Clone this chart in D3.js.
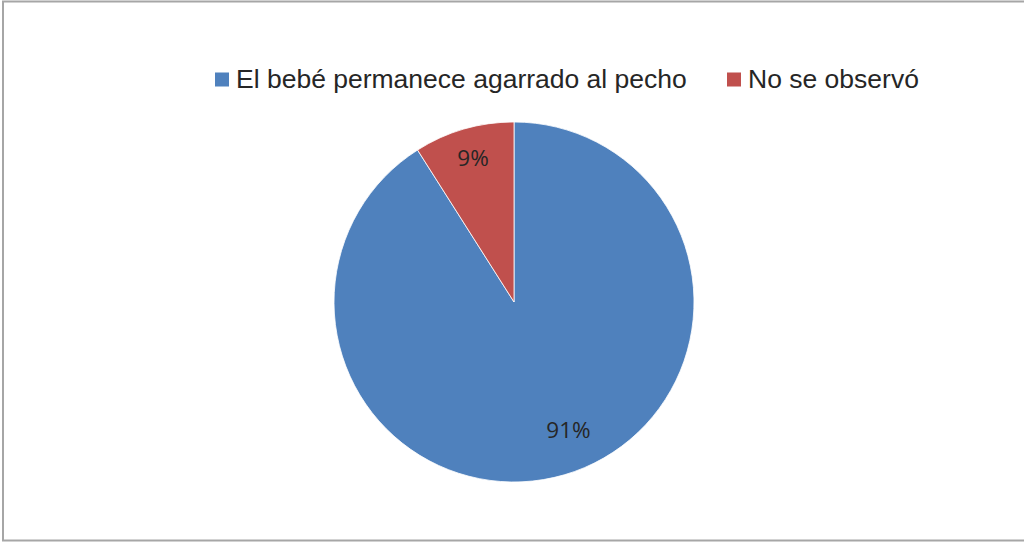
<!DOCTYPE html>
<html>
<head>
<meta charset="utf-8">
<script src="https://cdn.jsdelivr.net/npm/d3@7"></script>
<style>
  html, body { margin: 0; padding: 0; background: #fff; }
  svg { display: block; }
</style>
</head>
<body>
<svg id="chart" width="1024" height="543"></svg>
<script>
// Pie data
const categories = ["El bebé permanece agarrado al pecho", "No se observó"];
const values = [91, 9];
const colors = ["#4F81BD", "#C0504D"];
// label placement: distance as a fraction of the radius, and position along the slice (0..1)
const labelRadii = [0.772, 0.832];
const labelAlong = [0.479, 0.51];

const svg = d3.select("#chart");
const W = 1024, H = 543;

// chart frame
svg.append("rect")
  .attr("x", 3).attr("y", 1.5)
  .attr("width", W + 10).attr("height", 539)
  .attr("fill", "#fff")
  .attr("stroke", "#a6a6a6")
  .attr("stroke-width", 2);

const cx = 514, cy = 302, R = 180;

const pie = d3.pie().sort(null).value(d => d);
const arcs = pie(values);
const arc = d3.arc().innerRadius(0).outerRadius(R);

const g = svg.append("g").attr("transform", `translate(${cx},${cy})`);

g.selectAll("path.slice")
  .data(arcs)
  .join("path")
  .attr("class", "slice")
  .attr("d", arc)
  .attr("fill", (d, i) => colors[i])
  .attr("stroke", "#fff")
  .attr("stroke-width", 0.8);

g.selectAll("text.pct")
  .data(arcs)
  .join("text")
  .attr("class", "pct")
  .attr("transform", (d, i) => {
    const r = R * labelRadii[i];
    const a = d.startAngle + (d.endAngle - d.startAngle) * labelAlong[i];
    return `translate(${Math.sin(a) * r},${-Math.cos(a) * r})`;
  })
  .attr("text-anchor", "middle")
  .attr("dy", "0.36em")
  .attr("font-family", "'Open Sans', 'Noto Sans', sans-serif")
  .attr("font-size", 22.5)
  .attr("fill", "#262626")
  .text(d => d.data + "%");

// legend
const legendItems = [
  { x: 215, label: categories[0], color: colors[0] },
  { x: 727, label: categories[1], color: colors[1] }
];
const lg = svg.append("g");
legendItems.forEach(it => {
  lg.append("rect")
    .attr("x", it.x).attr("y", 72.5)
    .attr("width", 14).attr("height", 14)
    .attr("fill", it.color);
  lg.append("text")
    .attr("x", it.x + 21).attr("y", 88)
    .attr("font-family", "'Liberation Sans', Arial, sans-serif")
    .attr("font-size", 26.5)
    .attr("fill", "#262626")
    .text(it.label);
});
</script>
</body>
</html>
